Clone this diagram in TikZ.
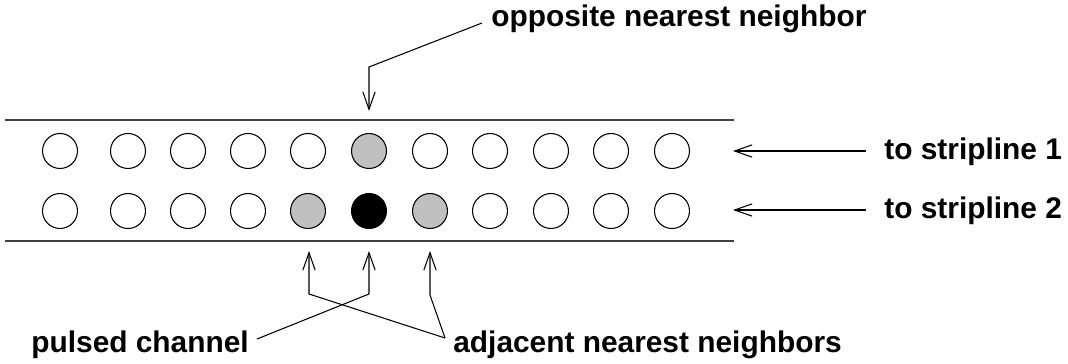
\documentclass[tikz,border=0pt]{standalone}
\usepackage{fontspec}
\setmainfont{Liberation Sans}
\usetikzlibrary{positioning, arrows.meta}

\definecolor{chgray}{RGB}{192,192,192}

\begin{document}
\begin{tikzpicture}[
    x=0.02cm, y=-0.02cm, %% one unit is one pixel of the sketch
    chan/.style={
        circle,
        draw=black,
        line width=0.6pt,
        minimum size=0.7cm,
        inner sep=0pt
    },
    tag/.style={
        anchor=base west,
        inner sep=0pt,
        font=\fontsize{17}{20}\selectfont\bfseries
    },
    arrow/.style={
        -{Straight Barb[length=10pt, width=7pt]},
        line width=0.6pt
    },
    wire/.style={
        line width=0.6pt
    }
]

\useasboundingbox (0,0) rectangle (1068,364);

%% Stripline edges
\coordinate (top_l) at (5,120);
\coordinate (top_r) at (734,120);
\coordinate (bot_l) at (5,241);
\coordinate (bot_r) at (734,241);
\draw[wire, black!75] (top_l) -- (top_r);
\draw[wire, black!75] (bot_l) -- (bot_r);

%% Channels, upper and lower row
\foreach \x/\fa/\fb [count=\i] in {60/white/white, 128/white/white, 188/white/white,
    248/white/white, 308/white/chgray, 369/chgray/black, 430/white/chgray,
    490/white/white, 551/white/white, 611/white/white, 672/white/white}
{
    \node[chan, fill=\fa] (up\i) at (\x,151) {};
    \node[chan, fill=\fb] (lo\i) at (\x,211) {};
}

%% Labels
\node[tag] (opposite) at (491,27) {opposite nearest neighbor};
\node[tag] (strip_one) at (884,160) {to stripline 1};
\node[tag] (strip_two) at (884,219) {to stripline 2};
\node[tag] (pulsed) at (31,353) {pulsed channel};
\node[tag] (adjacent) at (453,353) {adjacent nearest neighbors};

%% Opposite nearest neighbor
\coordinate (opp_start) at (482,23);
\coordinate (opp_bend) at (369,67);
\coordinate (opp_tip) at (369,111);
\draw[arrow] (opp_start) -- (opp_bend) -- (opp_tip);

%% Stripline connections
\coordinate (one_start) at (866,151);
\coordinate (one_tip) at (733,151);
\coordinate (two_start) at (866,210);
\coordinate (two_tip) at (733,210);
\draw[arrow] (one_start) -- (one_tip);
\draw[arrow] (two_start) -- (two_tip);

%% Pulsed channel and adjacent neighbors
\coordinate (pulse_start) at (257,339);
\coordinate (pulse_bend) at (369,294);
\coordinate (pulse_tip) at (369,251);
\coordinate (adj_join) at (445,338);
\coordinate (adj_l_bend) at (309,294);
\coordinate (adj_l_tip) at (309,251);
\coordinate (adj_r_bend) at (430,295);
\coordinate (adj_r_tip) at (430,251);
\draw[arrow] (pulse_start) -- (pulse_bend) -- (pulse_tip);
\draw[arrow] (adj_join) -- (adj_l_bend) -- (adj_l_tip);
\draw[arrow] (adj_join) -- (adj_r_bend) -- (adj_r_tip);

\end{tikzpicture}
\end{document}
